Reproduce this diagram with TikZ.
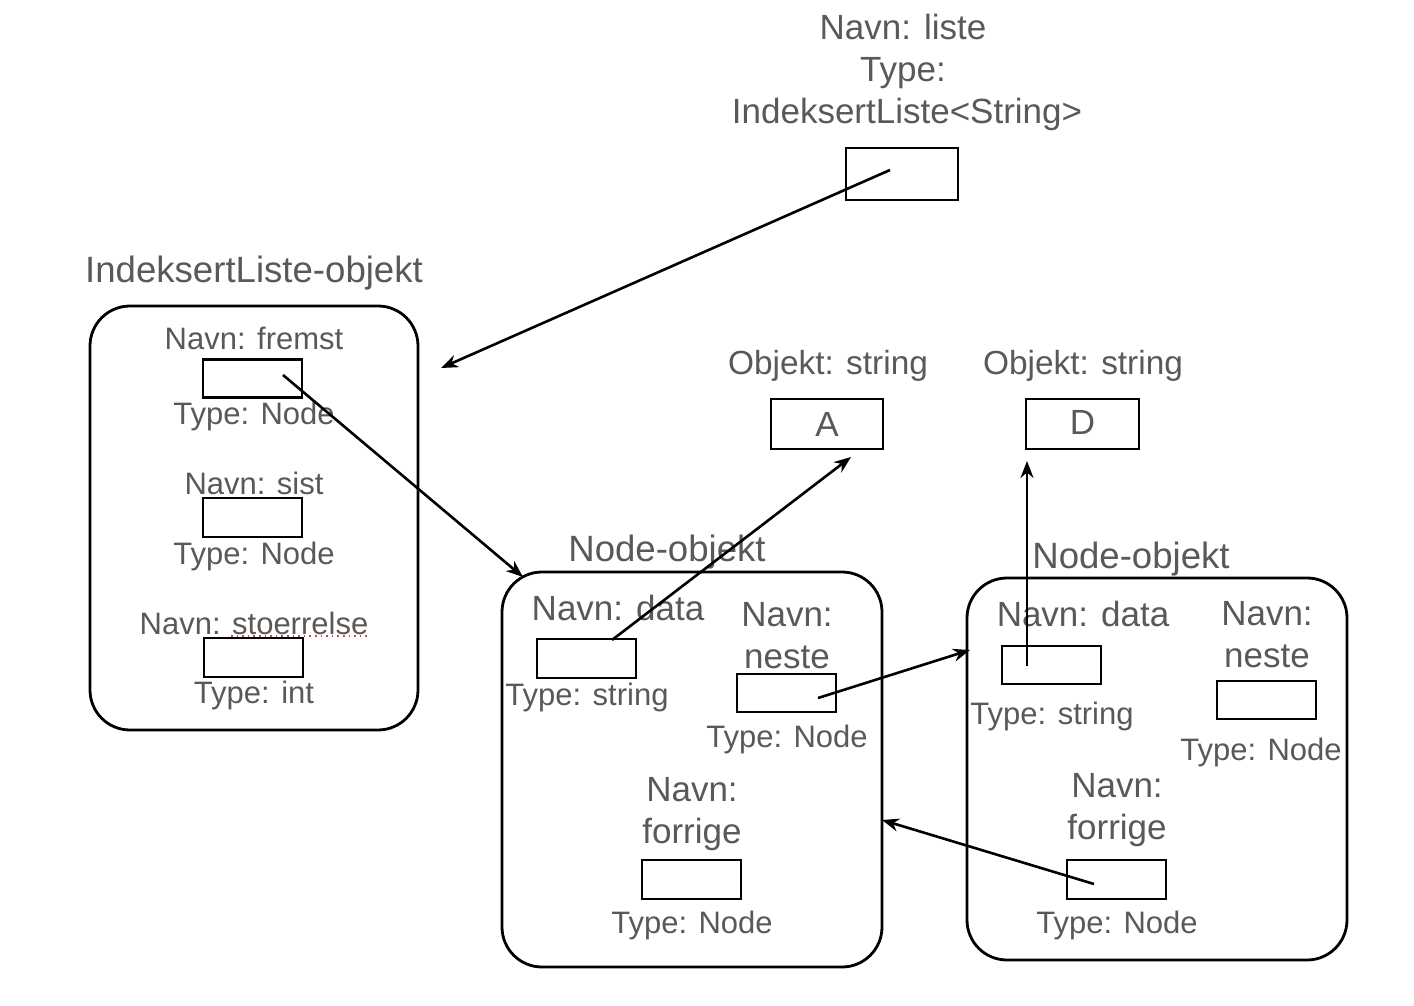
\documentclass[tikz,border=0pt]{standalone}
\usepackage{fontspec}
\setmainfont{Liberation Sans}
\usetikzlibrary{arrows.meta}
\definecolor{txtgray}{RGB}{89,89,89}
\definecolor{spellred}{RGB}{230,60,60}
\begin{document}
\begin{tikzpicture}[x=0.5pt,y=-0.5pt,
  lbl/.style={text=txtgray,font=\fontsize{15.5}{21}\selectfont,inner sep=0pt,text height=0.716em,text depth=0pt,align=center,yshift=-2.2pt},
  lblbig/.style={lbl,font=\fontsize{17.5}{21}\selectfont},
  lblobj/.style={lbl,font=\fontsize{16.7}{21}\selectfont},
  hdr/.style={lbl,font=\fontsize{18.3}{21}\selectfont},
  field/.style={draw,line width=1.4pt,minimum width=49.5pt,minimum height=19pt,inner sep=0pt},
  objbox/.style={draw,line width=1.4pt,rounded corners=20pt,inner sep=0pt},
  ptr/.style={line width=1.3pt,-{Stealth[length=8.5pt,width=6.5pt]}}]
\useasboundingbox (0,0) rectangle (1414,1006);
% top variable
\node[lblbig] (l1) at (903,28) {Navn: liste};
\node[lblbig] (l2) at (903,70) {Type:};
\node[lblbig] (l3) at (907,112) {IndeksertListe<String>};
\node[field,minimum width=56pt,minimum height=26pt] (listebox) at (902,174) {};
% IndeksertListe object
\node[hdr] (ilt) at (254,271) {IndeksertListe-objekt};
\node[objbox,minimum width=164pt,minimum height=212pt] (ilobj) at (254,518) {};
\node[lbl] (fn) at (254,338) {Navn: fremst};
\node[field] (fremst) at (252.5,378.5) {};
\node[lbl] (ft) at (254,413) {Type: Node};
\node[lbl] (sn) at (254,483) {Navn: sist};
\node[field,minimum height=19.5pt] (sist) at (252.5,517.5) {};
\node[lbl] (st) at (254,553) {Type: Node};
\node[lbl] (zn) at (254,623) {Navn: stoerrelse};
\draw[spellred,line width=0.8pt,dotted] (231,636) -- (367,636);
\node[field,minimum height=19.5pt] (stoer) at (253.5,657.5) {};
\node[lbl] (zt) at (254,692) {Type: int};
% string objects
\node[lblobj] (oa) at (828,363) {Objekt: string};
\node[field,minimum width=56pt,minimum height=25pt,text=txtgray,font=\fontsize{17.5}{20}\selectfont] (A) at (827,424) {A};
\node[lblobj] (od) at (1083,363) {Objekt: string};
\node[field,minimum width=56.5pt,minimum height=25pt,text=txtgray,font=\fontsize{17.5}{20}\selectfont] (D) at (1082.5,424) {\raisebox{2pt}{D}};
% Node object 1
\node[hdr] (n1t) at (667,550) {Node-objekt};
\node[objbox,minimum width=190pt,minimum height=197.5pt] (node1) at (692,769.5) {};
\node[lblbig] (d1n) at (618,609) {Navn: data};
\node[field,minimum height=19.5pt] (data1) at (586.5,658.5) {};
\node[lbl] (d1t) at (587,694) {Type: string};
\node[lblbig] (ne1n) at (787,615) {Navn:};
\node[lblbig] (ne1b) at (787,657) {neste};
\node[field] (neste1) at (786.5,693) {};
\node[lbl] (ne1t) at (787,736) {Type: Node};
\node[lblbig] (f1n) at (692,790) {Navn:};
\node[lblbig] (f1b) at (692,832) {forrige};
\node[field,minimum height=19.5pt] (forrige1) at (691.5,879.5) {};
\node[lbl] (f1t) at (692,922) {Type: Node};
% Node object 2
\node[hdr] (n2t) at (1131,557) {Node-objekt};
\node[objbox,minimum width=190pt,minimum height=191pt] (node2) at (1157,769) {};
\node[lblbig] (d2n) at (1083,615) {Navn: data};
\node[field] (data2) at (1051.5,665) {};
\node[lbl] (d2t) at (1052,713) {Type: string};
\node[lblbig] (ne2n) at (1267,614) {Navn:};
\node[lblbig] (ne2b) at (1267,656) {neste};
\node[field] (neste2) at (1266.5,700) {};
\node[lbl] (ne2t) at (1261,749) {Type: Node};
\node[lblbig] (f2n) at (1117,786) {Navn:};
\node[lblbig] (f2b) at (1117,828) {forrige};
\node[field,minimum height=19.5pt] (forrige2) at (1116.5,879.5) {};
\node[lbl] (f2t) at (1117,922) {Type: Node};
% connector ends
\coordinate (cListeStart) at (890,170);
\coordinate (cListeEnd) at (441,368);
\coordinate (cFremstStart) at (283,375);
\coordinate (cFremstEnd) at (523,577);
\coordinate (cData1Start) at (612,640);
\coordinate (cData1End) at (851,457);
\coordinate (cNeste1Start) at (818,698);
\coordinate (cNeste1End) at (970,650);
\coordinate (cData2Start) at (1027,666);
\coordinate (cData2End) at (1027,461);
\coordinate (cForrige2Start) at (1094,884);
\coordinate (cForrige2End) at (882,820);
\draw[ptr] (cListeStart) -- (cListeEnd);
\draw[ptr] (cFremstStart) -- (cFremstEnd);
\draw[ptr] (cData1Start) -- (cData1End);
\draw[ptr] (cNeste1Start) -- (cNeste1End);
\draw[ptr] (cData2Start) -- (cData2End);
\draw[ptr] (cForrige2Start) -- (cForrige2End);
\end{tikzpicture}
\end{document}
